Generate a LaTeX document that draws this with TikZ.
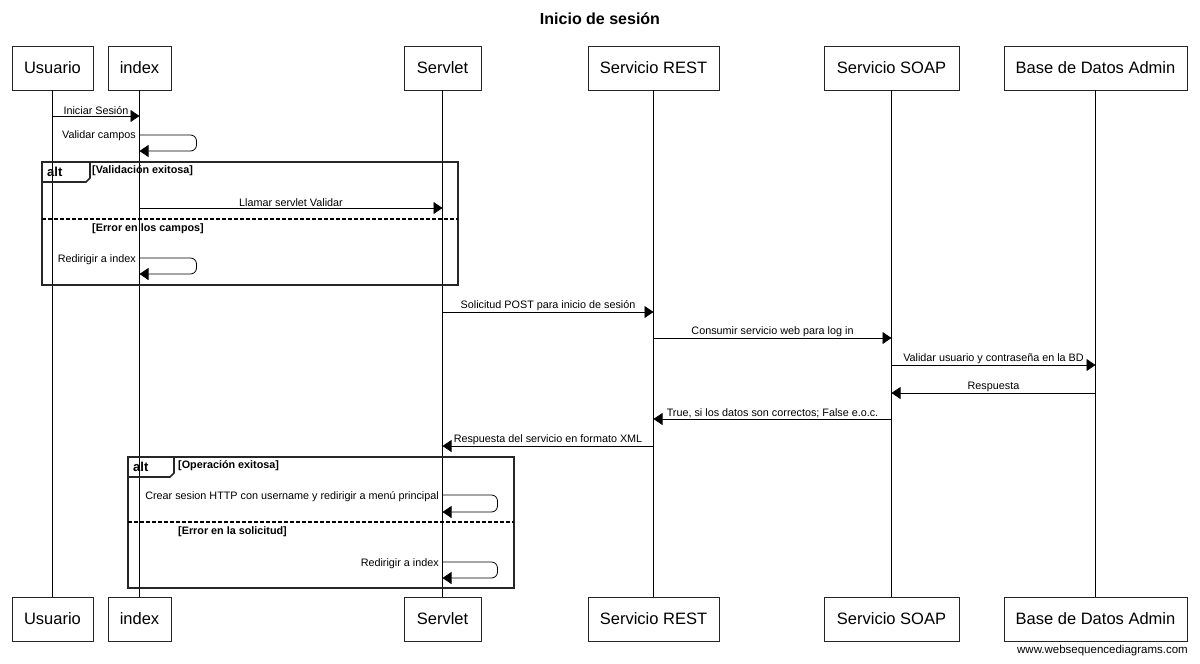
\documentclass[tikz,border=0pt]{standalone}
\usepackage{fontspec}
\setmainfont{Liberation Sans}
\usetikzlibrary{arrows.meta}

\tikzset{
  actor/.style={draw=black!85, line width=0.8pt, minimum height=44pt, inner sep=0pt,
    font=\fontsize{16.5}{18}\selectfont},
  msg/.style={line width=0.8pt, -{Triangle[length=9pt,width=12pt]}},
  lbl/.style={font=\fontsize{10.8}{12}\selectfont, inner sep=1pt},
  guard/.style={font=\bfseries\fontsize{10.8}{12}\selectfont, anchor=west, inner sep=0pt},
  altframe/.style={draw=black!85, line width=1.6pt},
  altsep/.style={line width=1.2pt, dash pattern=on 4pt off 2pt},
}

\begin{document}
\begin{tikzpicture}[x=1pt, y=-1pt]
        \useasboundingbox (0,0) rectangle (1200,664);

        % Titulo
        \node[font=\bfseries\fontsize{16}{18}\selectfont] (titulo) at (600,19) {Inicio de sesión};

        % Participantes
        \node[actor, minimum width=81pt]  (usr)  at (52.5,68)   {Usuario};
        \node[actor, minimum width=63pt]  (idx)  at (139.5,68)  {index};
        \node[actor, minimum width=77pt]  (srv)  at (442.5,68)  {Servlet};
        \node[actor, minimum width=131pt] (rest) at (653.5,68)  {Servicio REST};
        \node[actor, minimum width=135pt] (soap) at (891.5,68)  {Servicio SOAP};
        \node[actor, minimum width=183pt] (bd)   at (1095.5,68) {Base de Datos Admin};

        \node[actor, minimum width=81pt]  (usrB)  at (52.5,619)   {Usuario};
        \node[actor, minimum width=63pt]  (idxB)  at (139.5,619)  {index};
        \node[actor, minimum width=77pt]  (srvB)  at (442.5,619)  {Servlet};
        \node[actor, minimum width=131pt] (restB) at (653.5,619)  {Servicio REST};
        \node[actor, minimum width=135pt] (soapB) at (891.5,619)  {Servicio SOAP};
        \node[actor, minimum width=183pt] (bdB)   at (1095.5,619) {Base de Datos Admin};

        % Lineas de vida
        \draw[line width=0.8pt] (usr) -- (usrB);
        \draw[line width=0.8pt] (idx) -- (idxB);
        \draw[line width=0.8pt] (srv) -- (srvB);
        \draw[line width=0.8pt] (rest) -- (restB);
        \draw[line width=0.8pt] (soap) -- (soapB);
        \draw[line width=0.8pt] (bd) -- (bdB);

        % Mensajes
        \draw[msg] (usr.south |- 0,116) -- node[lbl, above] {Iniciar Sesión} (idx.south |- 0,116);

        \draw[msg, rounded corners=6pt] (idx.south |- 0,135) -- ++(57,0) -- ++(0,16) -- ++(-57,0);
        \node[lbl, anchor=east] (m2) at (137,136) {Validar campos};

        % alt 1
        \draw[altframe] (42,162) rectangle (458,285);
        \draw[altframe] (42,182) -- (86,182) -- (90,178) -- (90,162);
        \node[font=\bfseries\fontsize{13}{14}\selectfont, anchor=west, inner sep=0pt] (alt1) at (47,172) {alt};
        \node[guard] (g1) at (92,171) {[Validación exitosa]};

        \draw[msg] (idx.south |- 0,208) -- node[lbl, above] {Llamar servlet Validar} (srv.south |- 0,208);

        \draw[altsep] (42,219) -- (458,219);
        \node[guard] (g2) at (92,229) {[Error en los campos]};

        \draw[msg, rounded corners=6pt] (idx.south |- 0,258) -- ++(57,0) -- ++(0,16) -- ++(-57,0);
        \node[lbl, anchor=east] (m4) at (137,260) {Redirigir a index};

        % Servicios
        \draw[msg] (srv.south |- 0,312) -- node[lbl, above] {Solicitud POST para inicio de sesión} (rest.south |- 0,312);
        \draw[msg] (rest.south |- 0,338) -- node[lbl, above] {Consumir servicio web para log in} (soap.south |- 0,338);
        \draw[msg] (soap.south |- 0,365) -- node[lbl, above] {Validar usuario y contraseña en la BD} (bd.south |- 0,365);
        \draw[msg] (bd.south |- 0,393) -- node[lbl, above] {Respuesta} (soap.south |- 0,393);
        \draw[msg] (soap.south |- 0,419) -- node[lbl, above] {True, si los datos son correctos; False e.o.c.} (rest.south |- 0,419);
        \draw[msg] (rest.south |- 0,446) -- node[lbl, above] {Respuesta del servicio en formato XML} (srv.south |- 0,446);

        % alt 2
        \draw[altframe] (128,457) rectangle (514,588);
        \draw[altframe] (128,477) -- (170,477) -- (174,473) -- (174,457);
        \node[font=\bfseries\fontsize{13}{14}\selectfont, anchor=west, inner sep=0pt] (alt2) at (133,467) {alt};
        \node[guard] (g3) at (178,466) {[Operación exitosa]};

        \draw[msg, rounded corners=6pt] (srv.south |- 0,495) -- ++(55,0) -- ++(0,17) -- ++(-55,0);
        \node[lbl, anchor=east] (m11) at (440,497) {Crear sesion HTTP con username y redirigir a menú principal};

        \draw[altsep] (128,522) -- (514,522);
        \node[guard] (g4) at (178,532) {[Error en la solicitud]};

        \draw[msg, rounded corners=6pt] (srv.south |- 0,562) -- ++(55,0) -- ++(0,16) -- ++(-55,0);
        \node[lbl, anchor=east] (m12) at (440,564) {Redirigir a index};

        % Pie
        \node[font=\fontsize{11.5}{13}\selectfont, anchor=east, inner sep=0pt] (pie) at (1188,651) {www.websequencediagrams.com};
\end{tikzpicture}
\end{document}
